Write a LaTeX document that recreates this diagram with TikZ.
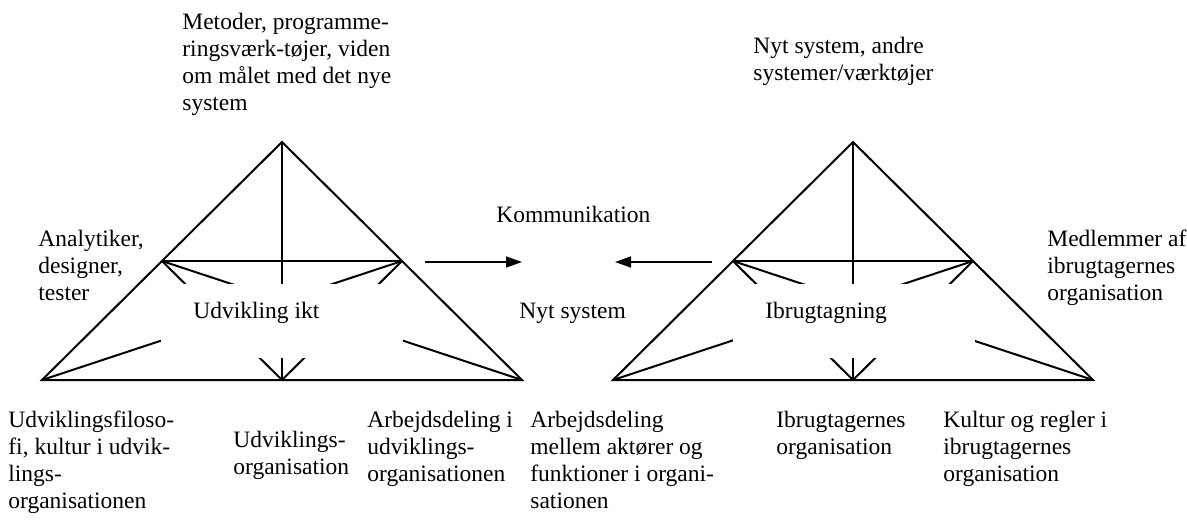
\documentclass[tikz,border=0pt]{standalone}
\usepackage{fontspec}
\setmainfont{Liberation Serif}
\usetikzlibrary{arrows.meta}

\tikzset{
  tri/.style={line width=1pt},
  hidebox/.style={fill=white, inner sep=0pt, minimum width=121pt, minimum height=37pt},
  txt/.style={anchor=base west, inner sep=0pt, align=left, font=\fontsize{11.75}{13.5}\selectfont},
  komm/.style={line width=0.75pt, -{Triangle[length=8pt, width=5.5pt]}}
}

\begin{document}
\begin{tikzpicture}[x=0.5pt, y=-0.5pt]
\useasboundingbox (0,0) rectangle (1187,525);

% left triangle: udvikling
\coordinate (uA) at (282,142); % apex
\coordinate (uBL) at (42,380);
\coordinate (uBR) at (522,380);
\coordinate (uML) at (162,261);
\coordinate (uMR) at (402,261);
\coordinate (uBC) at (282,380);
\draw[tri] (uA) -- (uBL) -- (uBR) -- cycle;
\draw[tri] (uA) -- (uBC); % mid vertical
\draw[tri] (uML) -- (uMR);
\draw[tri] (uML) -- (uBC);
\draw[tri] (uMR) -- (uBC);
\draw[tri] (uML) -- (uBR);
\draw[tri] (uMR) -- (uBL);
\node[hidebox] (uBox) at (281.5,321) {};

% right triangle: ibrugtagning
\coordinate (iA) at (853,142); % apex
\coordinate (iBL) at (613,380);
\coordinate (iBR) at (1093,380);
\coordinate (iML) at (733,261);
\coordinate (iMR) at (973,261);
\coordinate (iBC) at (853,380);
\draw[tri] (iA) -- (iBL) -- (iBR) -- cycle;
\draw[tri] (iA) -- (iBC); % mid vertical
\draw[tri] (iML) -- (iMR);
\draw[tri] (iML) -- (iBC);
\draw[tri] (iMR) -- (iBC);
\draw[tri] (iML) -- (iBR);
\draw[tri] (iMR) -- (iBL);
\node[hidebox] (iBox) at (854,321) {};

% kommunikation
\coordinate (kR0) at (425,262);
\coordinate (kR1) at (522,262);
\coordinate (kL0) at (712,262);
\coordinate (kL1) at (615,262);
\draw[komm] (kR0) -- (kR1);
\draw[komm] (kL0) -- (kL1);

\node[txt] (udv) at (193,318) {Udvikling ikt};
\node[txt] (ibr) at (765,318) {Ibrugtagning};
\node[txt] (nyt) at (519,318) {Nyt system};
\node[txt] (kom) at (496,222) {Kommunikation};

% multi-line texts: placed at the baseline of their last line
\node[txt] (metoder) at (182,110) {Metoder, programme-\\ringsværk-tøjer, viden\\om målet med det nye\\system};
\node[txt] (nytand) at (753,80) {Nyt system, andre\\systemer/værktøjer};
\node[txt] (analyt) at (38,300) {Analytiker,\\designer,\\tester};
\node[txt] (medl) at (1047,300) {Medlemmer af\\ibrugtagernes\\organisation};

\node[txt] (filo) at (8,508) {Udviklingsfiloso-\\fi, kultur i udvik-\\lings-\\organisationen};
\node[txt] (udvorg) at (233,474) {Udviklings-\\organisation};
\node[txt] (arbudv) at (367,481) {Arbejdsdeling i\\udviklings-\\organisationen};
\node[txt] (arbmel) at (530,508) {Arbejdsdeling\\mellem aktører og\\funktioner i organi-\\sationen};
\node[txt] (ibrorg) at (776,454) {Ibrugtagernes\\organisation};
\node[txt] (kultur) at (943,481) {Kultur og regler i\\ibrugtagernes\\organisation};
\end{tikzpicture}
\end{document}
